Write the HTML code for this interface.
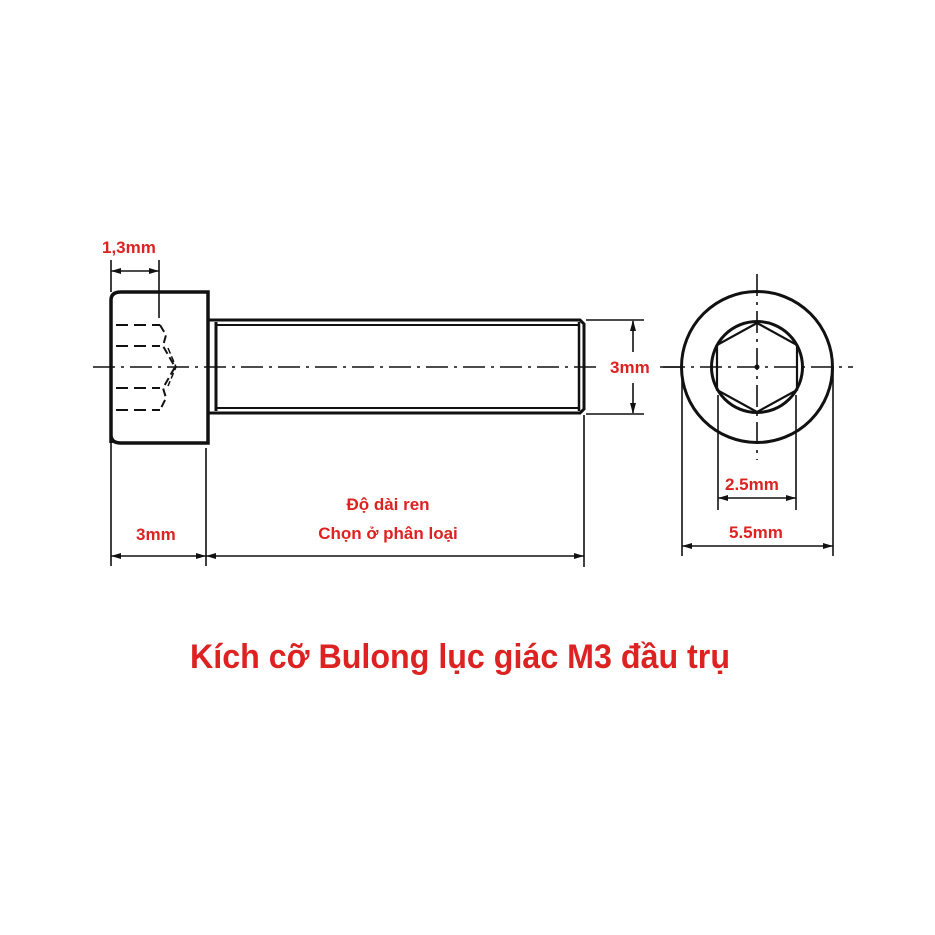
<!DOCTYPE html>
<html><head><meta charset="utf-8"><style>html,body{margin:0;padding:0;background:#fff}svg{display:block}</style></head>
<body>
<svg width="935" height="935" viewBox="0 0 935 935" xmlns="http://www.w3.org/2000/svg">
<rect width="935" height="935" fill="#fff"/>
<g stroke="#111" fill="none">
<!-- head -->
<path d="M111,443 L111,300 Q111,292 121,292 L208,292 L208,443 L121,443 Q111,443 111,435" stroke-width="3.5"/>
<!-- hex socket hidden lines -->
<g stroke-width="2" stroke-dasharray="12,6">
<line x1="116" y1="325" x2="160" y2="325"/>
<line x1="116" y1="346" x2="160" y2="346"/>
<line x1="116" y1="388" x2="160" y2="388"/>
<line x1="116" y1="410" x2="160" y2="410"/>
</g>
<path d="M160,325 L166,335 L163,346 L175,367 L163,388 L166,398 L160,410" stroke-width="2" stroke-dasharray="8,4"/>
<path d="M168,348 L176,367 L168,386" stroke-width="1.5" stroke-dasharray="6,3"/>
<!-- shank -->
<path d="M208,320 L580,320 L584,324 L584,409 L580,413 L208,413" stroke-width="3"/>
<line x1="216" y1="325" x2="578" y2="325" stroke-width="2"/>
<line x1="216" y1="408" x2="578" y2="408" stroke-width="2"/>
<line x1="216" y1="322" x2="216" y2="411" stroke-width="3"/>
<line x1="579" y1="322" x2="579" y2="411" stroke-width="2.5"/>
<!-- centerlines -->
<line x1="93" y1="367" x2="598" y2="367" stroke-width="1.6" stroke-dasharray="22,6,3,6"/>
<line x1="660" y1="367" x2="680" y2="367" stroke-width="1.6"/>
<line x1="663" y1="367" x2="853" y2="367" stroke-width="1.6" stroke-dasharray="22,6,3,6"/>
<line x1="757" y1="274" x2="757" y2="460" stroke-width="1.6" stroke-dasharray="22,6,3,6"/>
<!-- dimensions left -->
<g stroke-width="1.6">
<line x1="111" y1="260" x2="111" y2="292"/>
<line x1="159" y1="260" x2="159" y2="318"/>
<line x1="111" y1="271" x2="159" y2="271"/>
<line x1="111" y1="443" x2="111" y2="566"/>
<line x1="206" y1="448" x2="206" y2="566"/>
<line x1="584" y1="415" x2="584" y2="567"/>
<line x1="111" y1="556" x2="584" y2="556"/>
<line x1="586" y1="320" x2="644" y2="320"/>
<line x1="586" y1="414" x2="644" y2="414"/>
<line x1="633" y1="321" x2="633" y2="352"/>
<line x1="633" y1="383" x2="633" y2="413"/>
<!-- right -->
<line x1="718" y1="395" x2="718" y2="510"/>
<line x1="796" y1="395" x2="796" y2="510"/>
<line x1="718" y1="498" x2="796" y2="498"/>
<line x1="682" y1="367" x2="682" y2="556"/>
<line x1="833" y1="367" x2="833" y2="556"/>
<line x1="682" y1="546" x2="833" y2="546"/>
</g>
<!-- circles -->
<circle cx="757" cy="367" r="75.5" stroke-width="3"/>
<circle cx="757" cy="367" r="45.5" stroke-width="3"/>
<polygon points="757,323 797,345 797,390 757,412 717,390 717,345" stroke-width="2.2"/>
</g>
<!-- arrowheads -->
<g fill="#111">
<polygon points="111,271 121,268 121,274"/><polygon points="159,271 149,268 149,274"/>
<polygon points="111,556 121,553 121,559"/><polygon points="206,556 196,553 196,559"/>
<polygon points="206,556 216,553 216,559"/><polygon points="584,556 574,553 574,559"/>
<polygon points="633,320 630,331 636,331"/><polygon points="633,414 630,403 636,403"/>
<polygon points="718,498 728,495 728,501"/><polygon points="796,498 786,495 786,501"/>
<polygon points="682,546 692,543 692,549"/><polygon points="833,546 823,543 823,549"/>
<circle cx="757" cy="367" r="2.5"/>
</g>
<g fill="#dd2222" font-family="'Liberation Sans','DejaVu Sans',sans-serif" font-weight="bold">
<text x="102" y="253" font-size="17">1,3mm</text>
<text x="136" y="540" font-size="17">3mm</text>
<text x="610" y="373" font-size="17">3mm</text>
<text x="388" y="510" font-size="17" text-anchor="middle">Độ dài ren</text>
<text x="388" y="539" font-size="17" text-anchor="middle">Chọn ở phân loại</text>
<text x="725" y="490" font-size="17">2.5mm</text>
<text x="729" y="538" font-size="17">5.5mm</text>
<text x="190" y="668" font-size="34" textLength="540" lengthAdjust="spacingAndGlyphs">Kích cỡ Bulong lục giác M3 đầu trụ</text>
</g>
</svg>
</body></html>
